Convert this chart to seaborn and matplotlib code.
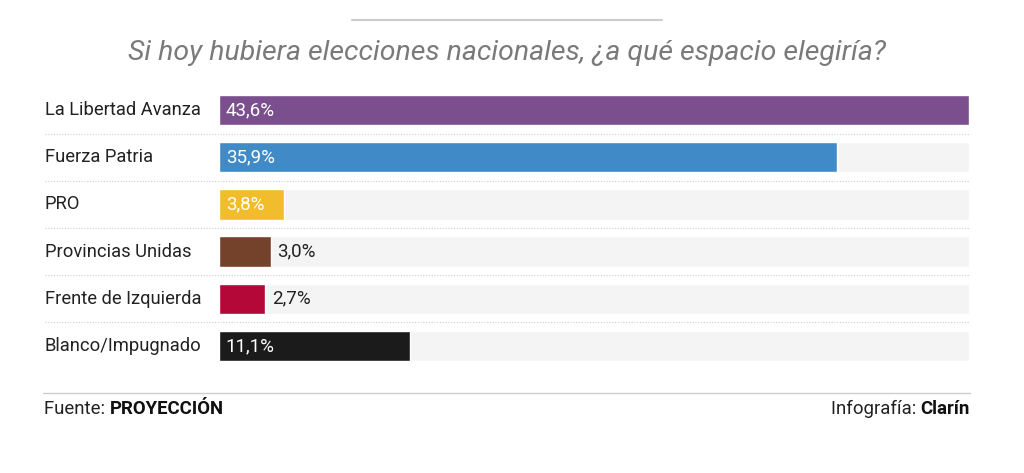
import matplotlib
matplotlib.use('Agg')
import matplotlib.pyplot as plt
from matplotlib.lines import Line2D
import matplotlib.transforms as mtransforms
import seaborn as sns
import pandas as pd

parties = ['La Libertad Avanza', 'Fuerza Patria', 'PRO', 'Provincias Unidas',
           'Frente de Izquierda', 'Blanco/Impugnado']
values = [43.6, 35.9, 3.8, 3.0, 2.7, 11.1]
labels = ['43,6%', '35,9%', '3,8%', '3,0%', '2,7%', '11,1%']
colors = ['#7b4f8e', '#418ac8', '#f1bd2c', '#74412b', '#b30838', '#1b1b1b']
inside = [True, True, True, False, False, True]

title = 'Si hoy hubiera elecciones nacionales, ¿a qué espacio elegiría?'

sns.set_theme(style='white')
plt.rcParams['font.family'] = ['Roboto', 'DejaVu Sans']

W, H = 1024, 473
fig = plt.figure(figsize=(W / 100, H / 100), dpi=100)
fig.patch.set_facecolor('white')

# axes placed in pixel terms
x0, x1 = 219, 969
y_top, y_bot = 86.5, 369.5
ax = fig.add_axes([x0 / W, 1 - y_bot / H, (x1 - x0) / W, (y_bot - y_top) / H])

df = pd.DataFrame({'party': parties, 'value': values})
n = len(parties)
vmax = max(values)

# grey track behind each bar
ax.barh(range(n), [vmax] * n, height=0.64, color='#f4f4f4', zorder=0)
sns.barplot(data=df, x='value', y='party', hue='party', palette=colors,
            order=parties, width=0.64, legend=False, ax=ax, zorder=2,
            saturation=1)

ax.set_xlim(0, vmax)
ax.set_ylim(n - 0.5, -0.5)
ax.axis('off')

trans = mtransforms.blended_transform_factory(ax.transAxes, ax.transData)
for i, (p, v, lab, ins) in enumerate(zip(parties, values, labels, inside)):
    ax.text((45 - x0) / (x1 - x0), i, p, transform=trans, ha='left', va='center',
            fontsize=13.2, color='#222222')
    if ins:
        ax.text(0.4, i, lab, ha='left', va='center', fontsize=13.5, color='white', zorder=3)
    else:
        ax.text(v + 0.4, i, lab, ha='left', va='center', fontsize=13.5, color='#222222', zorder=3)

# dotted separators between rows
for i in range(n - 1):
    ax.plot([(45 - x0) / (x1 - x0), 1], [i + 0.5, i + 0.5], transform=trans,
            color='#cfcfcf', lw=0.8, ls=(0, (1, 1.5)), clip_on=False)

# top rule and bottom rule
fig.add_artist(Line2D([352 / W, 662 / W], [1 - 20 / H, 1 - 20 / H], color='#cccccc', lw=1.5))
fig.add_artist(Line2D([43 / W, 970 / W], [1 - 393 / H, 1 - 393 / H], color='#cccccc', lw=1))

fig.text(507 / W, 1 - 53 / H, title, ha='center', va='center', fontsize=20.5,
         style='italic', color='#7a7a7a')

renderer = fig.canvas.get_renderer()
fy = 1 - 409 / H
t = fig.text(44 / W, fy, 'Fuente: ', ha='left', va='center', fontsize=13.4, color='#222222')
bb = t.get_window_extent(renderer=renderer)
fig.text(bb.x1 / W, fy, 'PROYECCIÓN', ha='left', va='center', fontsize=13.4,
         fontweight='bold', color='#111111')

t2 = fig.text(970 / W, fy, 'Clarín', ha='right', va='center', fontsize=13.4,
              fontweight='bold', color='#111111')
bb2 = t2.get_window_extent(renderer=renderer)
fig.text(bb2.x0 / W, fy, 'Infografía: ', ha='right', va='center', fontsize=13.4, color='#222222')

fig.savefig('out.png', dpi=100, facecolor='white')
